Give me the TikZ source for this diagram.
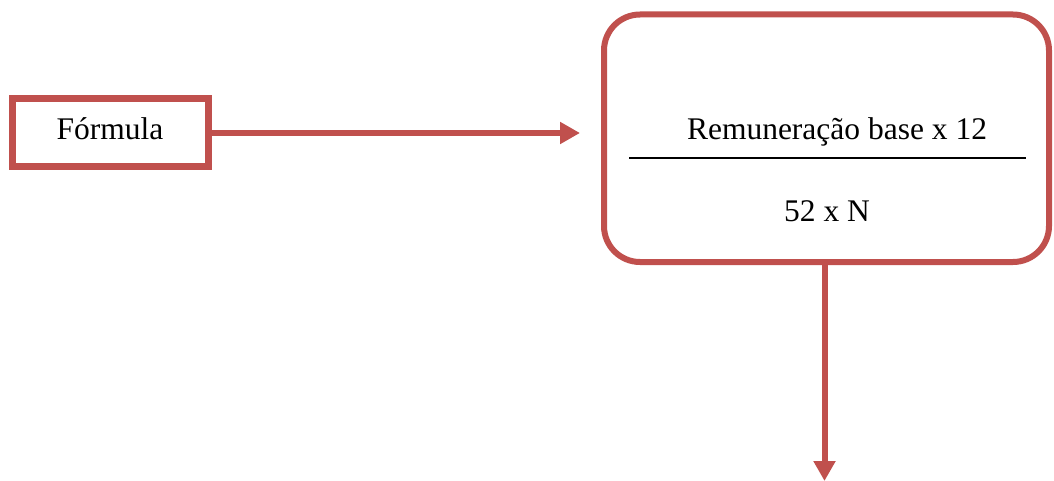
\documentclass[tikz,border=0pt]{standalone}
\usepackage{fontspec}
\setmainfont{Liberation Serif}
\usetikzlibrary{arrows.meta}
\definecolor{boxred}{RGB}{192,80,77}
\tikzset{
  redbox/.style={draw=boxred, line width=7pt, fill=white, inner sep=0pt},
  roundbox/.style={draw=boxred, line width=6pt, rounded corners=36pt, inner sep=0pt},
  conn/.style={draw=boxred, line width=6pt, -{Triangle[length=20pt,width=21pt]}},
  lbl/.style={font=\fontsize{31.5}{36}\selectfont, inner sep=0pt, anchor=base}
}
\begin{document}
\begin{tikzpicture}[x=1pt,y=-1pt]
\useasboundingbox (0,0) rectangle (1054,481);
\node[redbox, minimum width=196pt, minimum height=68pt] (f) at (110,132.5) {};
\node[lbl] (ft) at (110,140) {Fórmula};
\node[roundbox, minimum width=445pt, minimum height=247.5pt] (b) at (826.5,138.25) {};
\node[lbl] (t1) at (837,140) {Remuneração base x 12};
\node[lbl] (t2) at (827,221) {52 x N};
\draw[line width=1.5pt] (629,158) -- (1026,158);
\coordinate (e1) at (580,133);
\coordinate (e2) at (824.5,481);
\draw[conn] (f.east |- e1) -- (e1);
\draw[conn] ([xshift=-2pt]b.south) -- (e2);
\end{tikzpicture}
\end{document}
